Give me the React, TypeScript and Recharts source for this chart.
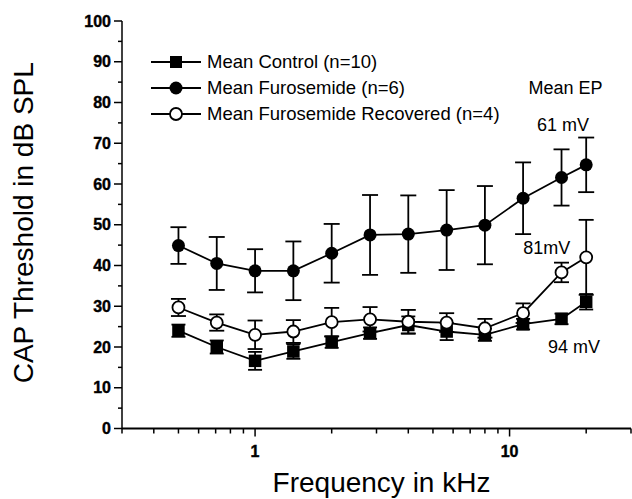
import { ComposedChart, Line, XAxis, YAxis, ErrorBar, Legend, ReferenceDot } from 'recharts'

const freqs = [0.5, 0.707, 1, 1.414, 2, 2.83, 4, 5.66, 8, 11.3, 16, 20]
const controlMean = [24.0, 20.0, 16.6, 18.9, 21.2, 23.4, 25.4, 23.8, 23.0, 25.6, 26.9, 31.1]
const controlErr = [1.5, 1.6, 2.2, 1.8, 1.4, 1.4, 2.1, 2.1, 1.5, 1.3, 1.3, 1.9]
const furoMean = [44.9, 40.5, 38.7, 38.7, 43.0, 47.5, 47.7, 48.7, 49.9, 56.5, 61.6, 64.7]
const furoErr = [4.5, 6.5, 5.3, 7.2, 7.2, 9.8, 9.5, 9.8, 9.6, 8.8, 6.9, 6.7]
const recMean = [29.7, 26.0, 23.0, 23.8, 26.1, 26.8, 26.2, 26.0, 24.6, 28.3, 38.3, 42.0]
const recErr = [2.1, 2.0, 3.5, 2.8, 3.5, 3.0, 2.9, 2.3, 2.3, 2.4, 2.4, 9.2]

const seriesNames = ['Mean Control (n=10)', 'Mean Furosemide (n=6)', 'Mean Furosemide Recovered (n=4)']

const xTicks = [0.3, 0.4, 0.5, 0.6, 0.7, 0.8, 0.9, 1, 2, 3, 4, 5, 6, 7, 8, 9, 10, 20, 30]
const xMajor = [1, 10]
const yTicks = [0, 5, 10, 15, 20, 25, 30, 35, 40, 45, 50, 55, 60, 65, 70, 75, 80, 85, 90, 95, 100]

// EP annotations: [label, freq, dB]
const notes: [string, number, number][] = [
  ['Mean EP', 16.6, 83.6],
  ['61 mV', 16.2, 74.5],
  ['81mV', 14.0, 44.4],
  ['94 mV', 17.9, 20.1],
]

const data = freqs.map((f, i) => ({
  f,
  ctrl: controlMean[i],
  ctrlErr: controlErr[i],
  furo: furoMean[i],
  furoErr: furoErr[i],
  rec: recMean[i],
  recErr: recErr[i],
}))

const FONT = '"Liberation Sans", Arial, Helvetica, sans-serif'
const LW = 1.8

const BottomTick = (p: any) => {
  const v = p.payload.value
  const major = xMajor.includes(v)
  return (
    <g>
      <line x1={p.x} x2={p.x} y1={p.y} y2={p.y + (major ? 8 : 5)} stroke="#000" strokeWidth={1.5} />
      {major && (
        <text x={p.x} y={p.y + 28} textAnchor="middle" fontFamily={FONT} fontWeight="bold" fontSize={16}
          fill="#000" stroke="#000" strokeWidth={0.4}>
          {v}
        </text>
      )}
    </g>
  )
}

const TopTick = (p: any) => {
  const major = xMajor.includes(p.payload.value)
  return <line x1={p.x} x2={p.x} y1={p.y} y2={p.y + (major ? 7 : 4)} stroke="#000" strokeWidth={1.3} />
}

const LeftTick = (p: any) => {
  const v = p.payload.value
  const major = v % 10 === 0
  return (
    <g>
      <line x1={p.x - (major ? 8 : 4)} x2={p.x} y1={p.y} y2={p.y} stroke="#000" strokeWidth={1.5} />
      {major && (
        <text x={p.x - 11} y={p.y + 5.5} textAnchor="end" fontFamily={FONT} fontWeight="bold" fontSize={16}
          fill="#000" stroke="#000" strokeWidth={0.4}>
          {v}
        </text>
      )}
    </g>
  )
}

const RightTick = (p: any) => {
  const major = p.payload.value % 10 === 0
  return <line x1={p.x - (major ? 8 : 4)} x2={p.x} y1={p.y} y2={p.y} stroke="#000" strokeWidth={1.3} />
}

const Square = ({ cx, cy, s = 12 }: any) => <rect x={cx - s / 2} y={cy - s / 2} width={s} height={s} fill="#000" />

const markerFor = (i: number, cx: number, cy: number) => {
  if (i === 0) return <Square cx={cx} cy={cy} s={12} />
  if (i === 1) return <circle cx={cx} cy={cy} r={6.5} fill="#000" />
  return <circle cx={cx} cy={cy} r={6} fill="#fff" stroke="#000" strokeWidth={LW} />
}

const LegendBox = () => (
  <div style={{ fontFamily: FONT, fontSize: 18.5, color: '#000' }}>
    {seriesNames.map((name, i) => (
      <div key={name} style={{ display: 'flex', alignItems: 'center', height: 26 }}>
        <svg width={52} height={26}>
          <line x1={0} x2={50} y1={13} y2={13} stroke="#000" strokeWidth={LW} />
          {markerFor(i, 25, 13)}
        </svg>
        <span style={{ marginLeft: 4 }}>{name}</span>
      </div>
    ))}
  </div>
)

const YTitle = (p: any) => {
  const vb = p.viewBox
  const cx = 23
  const cy = vb.y + vb.height / 2 - 2
  return (
    <text x={cx} y={cy} transform={`rotate(-90 ${cx} ${cy})`} textAnchor="middle" dominantBaseline="central"
      fontFamily={FONT} fontSize={28} fill="#000">
      CAP Threshold in dB SPL
    </text>
  )
}

const XTitle = (p: any) => {
  const vb = p.viewBox
  return (
    <text x={vb.x + vb.width / 2 + 5} y={vb.y + 63} textAnchor="middle" fontFamily={FONT} fontSize={28} fill="#000">
      Frequency in kHz
    </text>
  )
}

export default function App() {
  return (
    <div style={{ position: 'absolute', left: 0, top: 0, background: '#fff' }}>
      <ComposedChart width={632} height={499} data={data} margin={{ top: 21, right: 1, left: 0, bottom: 0 }}>
        <XAxis
          dataKey="f"
          type="number"
          scale="log"
          domain={[0.3, 30]}
          allowDataOverflow
          ticks={xTicks}
          interval={0}
          tickSize={0}
          tickMargin={0}
          tick={<BottomTick />}
          height={70.5}
          axisLine={{ stroke: '#000', strokeWidth: 2 }}
          label={<XTitle />}
        />
        <XAxis
          xAxisId="top"
          dataKey="f"
          orientation="top"
          type="number"
          scale="log"
          domain={[0.3, 30]}
          allowDataOverflow
          ticks={xTicks}
          interval={0}
          tickSize={0}
          tickMargin={0}
          tick={<TopTick />}
          height={0}
          axisLine={{ stroke: '#000', strokeWidth: 1.3 }}
        />
        <YAxis
          type="number"
          domain={[0, 100]}
          ticks={yTicks}
          interval={0}
          tickSize={0}
          tickMargin={0}
          tick={<LeftTick />}
          width={122}
          axisLine={{ stroke: '#000', strokeWidth: 1.5 }}
          label={<YTitle />}
        />
        <YAxis
          yAxisId="right"
          orientation="right"
          type="number"
          domain={[0, 100]}
          ticks={yTicks}
          interval={0}
          tickSize={0}
          tickMargin={0}
          tick={<RightTick />}
          width={0}
          axisLine={{ stroke: '#000', strokeWidth: 1.3 }}
        />
        <Legend
          layout="vertical"
          align="center"
          verticalAlign="middle"
          wrapperStyle={{ left: 151, top: 49, width: 'auto', height: 'auto' }}
          content={<LegendBox />}
        />
        <Line
          dataKey="ctrl"
          stroke="#000"
          strokeWidth={LW}
          isAnimationActive={false}
          dot={(p: any) => <Square key={`c${p.index}`} cx={p.cx} cy={p.cy} s={12.5} />}
          activeDot={false}
        >
          <ErrorBar dataKey="ctrlErr" width={7} stroke="#000" strokeWidth={LW} direction="y" isAnimationActive={false} />
        </Line>
        <Line
          dataKey="furo"
          stroke="#000"
          strokeWidth={LW}
          isAnimationActive={false}
          dot={(p: any) => <circle key={`f${p.index}`} cx={p.cx} cy={p.cy} r={6.5} fill="#000" />}
          activeDot={false}
        >
          <ErrorBar dataKey="furoErr" width={8} stroke="#000" strokeWidth={LW} direction="y" isAnimationActive={false} />
        </Line>
        <Line
          dataKey="rec"
          stroke="#000"
          strokeWidth={LW}
          isAnimationActive={false}
          dot={(p: any) => <circle key={`r${p.index}`} cx={p.cx} cy={p.cy} r={6} fill="#fff" stroke="#000" strokeWidth={LW} />}
          activeDot={false}
        >
          <ErrorBar dataKey="recErr" width={7.5} stroke="#000" strokeWidth={LW} direction="y" isAnimationActive={false} />
        </Line>
        {notes.map(([text, f, v]) => (
          <ReferenceDot
            key={text}
            x={f}
            y={v}
            r={0}
            fill="none"
            stroke="none"
            ifOverflow="visible"
            label={{ value: text, position: 'center', fontFamily: FONT, fontSize: 18, fill: '#000' }}
          />
        ))}
      </ComposedChart>
    </div>
  )
}
